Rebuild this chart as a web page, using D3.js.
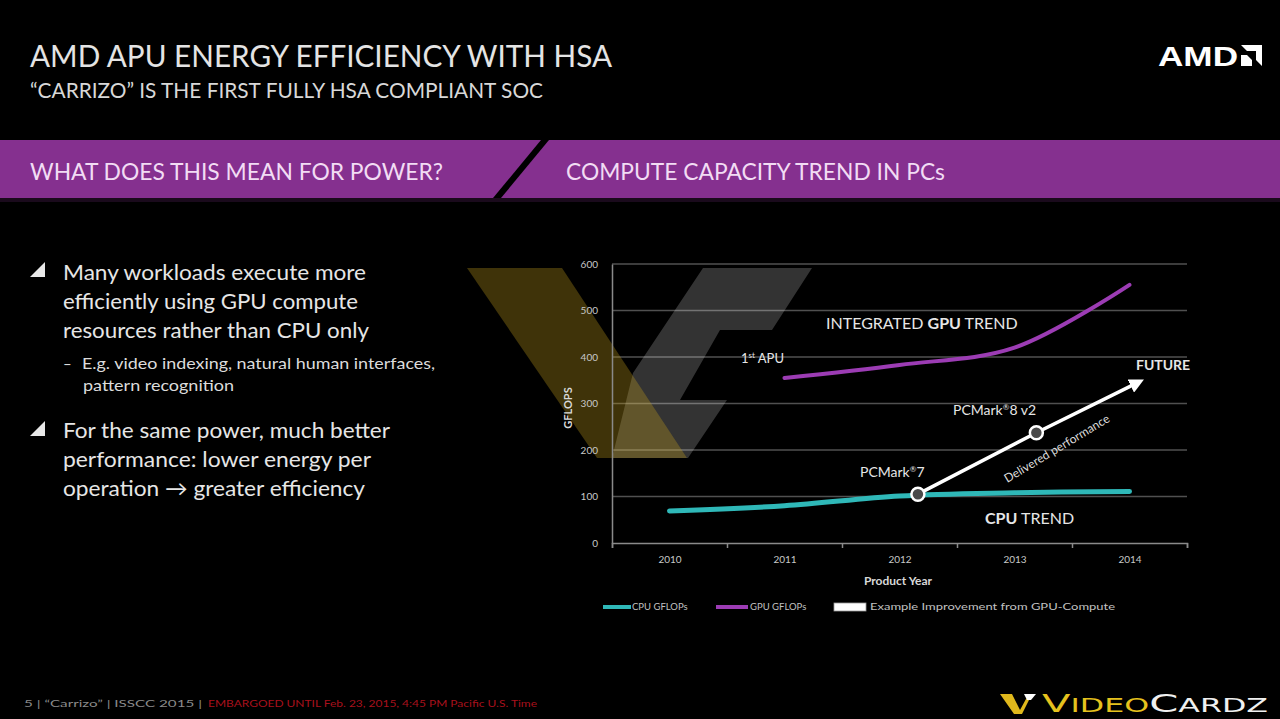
<!DOCTYPE html>
<html><head><meta charset="utf-8">
<script src="https://cdn.jsdelivr.net/npm/d3@7"></script>
<style>html,body{margin:0;padding:0;background:#000;overflow:hidden}</style>
</head><body>
<svg id="c" width="1280" height="719" xmlns="http://www.w3.org/2000/svg"></svg>
<script>
// ---------- data ----------
const years = [2010, 2011, 2012, 2013, 2014];
const cpuGflops = [69, 80, 101, 108, 111];
const gpuGflops = [null, 355, 383, 420, 555];
const improvementYear = [2012.16, 2013.19, 2014.08];
const improvementGflops = [105, 237, 346];
const yTicks = [0, 100, 200, 300, 400, 500, 600];
const legendLabels = ["CPU GFLOPs", "GPU GFLOPs", "Example Improvement from GPU-Compute"];
const bullet1 = ["Many workloads execute more", "efficiently using GPU compute", "resources rather than CPU only"];
const subBullet = ["E.g. video indexing, natural human interfaces,", "pattern recognition"];
const bullet2 = ["For the same power, much better", "performance: lower energy per", "operation \u2192 greater efficiency"];

// ---------- styles ----------
const FONT = "Lato, 'Open Sans', sans-serif";
const TEAL = "#2fb8b8", PURPLE = "#9c3cb4", BANNER = "#85308f";

const svg = d3.select("#c");
svg.append("rect").attr("width", 1280).attr("height", 719).attr("fill", "#000");

function fitText(sel, w) { return sel.attr("textLength", w).attr("lengthAdjust", "spacingAndGlyphs"); }

// ---------- header ----------
fitText(svg.append("text").attr("x", 30).attr("y", 67).attr("font-family", FONT).attr("font-size", 31)
  .attr("fill", "#e4e4e4").text("AMD APU ENERGY EFFICIENCY WITH HSA"), 582);
fitText(svg.append("text").attr("x", 30).attr("y", 98).attr("font-family", FONT).attr("font-size", 21)
  .attr("fill", "#d8d8d8").text("\u201CCARRIZO\u201D IS THE FIRST FULLY HSA COMPLIANT SOC"), 513);

// AMD logo
fitText(svg.append("text").attr("x", 1158).attr("y", 66).attr("font-family", "'Liberation Sans', Arial, sans-serif")
  .attr("font-weight", "bold").attr("font-size", 28).attr("fill", "#fff").text("AMD"), 80);
svg.append("path").attr("fill", "#fff")
  .attr("d", "M1241,45 L1262,45 L1262,66 L1256,60 L1256,51 L1247,51 Z M1241,66 L1241,55 L1247,55 L1252,60 L1252,66 Z");

// banner
svg.append("rect").attr("x", 0).attr("y", 198).attr("width", 1280).attr("height", 4).attr("fill", "#1a0a1c");
svg.append("path").attr("fill", BANNER).attr("d", "M0,140 L541,140 L493,198 L0,198 Z");
svg.append("path").attr("fill", BANNER).attr("d", "M549,140 L1280,140 L1280,198 L501,198 Z");
fitText(svg.append("text").attr("x", 30).attr("y", 180).attr("font-family", FONT).attr("font-size", 23)
  .attr("fill", "#f2dcf4").text("WHAT DOES THIS MEAN FOR POWER?"), 413);
fitText(svg.append("text").attr("x", 566).attr("y", 180).attr("font-family", FONT).attr("font-size", 23)
  .attr("fill", "#f2dcf4").text("COMPUTE CAPACITY TREND IN PCs"), 379);

// ---------- bullets ----------
const bulletGlyph = "M45,262 L45,277 L30,277 Z";
svg.append("path").attr("d", bulletGlyph).attr("fill", "#e8e8e8");
svg.append("path").attr("d", bulletGlyph).attr("transform", "translate(0,159)").attr("fill", "#e8e8e8");
const b1w = [303, 295, 306], b2w = [327, 308, 302];
bullet1.forEach((t, i) => fitText(svg.append("text").attr("x", 63).attr("y", 280 + i * 29)
  .attr("font-family", FONT).attr("font-size", 21).attr("fill", "#e6e6e6").text(t), b1w[i]));
svg.append("text").attr("x", 63).attr("y", 369).attr("font-family", FONT).attr("font-size", 15).attr("fill", "#dcdcdc").text("\u2013");
fitText(svg.append("text").attr("x", 82).attr("y", 369).attr("font-family", FONT).attr("font-size", 15)
  .attr("fill", "#dcdcdc").text(subBullet[0]), 353);
fitText(svg.append("text").attr("x", 83).attr("y", 391).attr("font-family", FONT).attr("font-size", 15)
  .attr("fill", "#dcdcdc").text(subBullet[1]), 151);
bullet2.forEach((t, i) => fitText(svg.append("text").attr("x", 63).attr("y", 438 + i * 29)
  .attr("font-family", FONT).attr("font-size", 21).attr("fill", "#e6e6e6").text(t), b2w[i]));

// ---------- chart ----------
const x = d3.scaleLinear().domain([2009.5, 2014.5]).range([612, 1187]);
const y = d3.scaleLinear().domain([0, 600]).range([543, 264]);

// gridlines
svg.append("g").selectAll("line").data(yTicks.filter(d => d > 0)).join("line")
  .attr("x1", x(2009.5)).attr("x2", x(2014.5)).attr("y1", d => y(d)).attr("y2", d => y(d))
  .attr("stroke", "#505050").attr("stroke-width", 1.5);

// watermark (decorative)
const wm = svg.append("g");
wm.append("path").attr("fill", "#ffffff").attr("opacity", 0.2)
  .attr("d", "M703,268 L812,268 L772,330 L720,330 L680,400 L727,400 L688,458 L612,458 L633,373 Z");
wm.append("path").attr("fill", "#c09a1c").attr("opacity", 0.33)
  .attr("d", "M467,268 L562,268 L687,458 L597,458 Z");

// y axis
const yAxis = svg.append("g").attr("transform", `translate(${x(2009.5)},0)`)
  .call(d3.axisLeft(y).tickValues(yTicks).tickSize(0).tickPadding(14));
yAxis.select(".domain").attr("stroke", "#8a8a8a").attr("stroke-width", 1.5);
yAxis.selectAll("text").attr("font-family", FONT).attr("font-size", 10).attr("fill", "#c8c8c8");

// x axis: tick marks at category boundaries, labels at centres
const xMarks = svg.append("g").attr("transform", `translate(0,${y(0)})`)
  .call(d3.axisBottom(x).tickValues(d3.range(2009.5, 2015, 1)).tickSize(5).tickFormat(""));
xMarks.select(".domain").attr("stroke", "#8a8a8a").attr("stroke-width", 1.5);
xMarks.selectAll("line").attr("stroke", "#8a8a8a").attr("stroke-width", 1.5);
const xLabels = svg.append("g").attr("transform", `translate(0,${y(0)})`)
  .call(d3.axisBottom(x).tickValues(years).tickSize(0).tickPadding(13).tickFormat(d3.format("d")));
xLabels.select(".domain").remove();
xLabels.selectAll("text").attr("font-family", FONT).attr("font-size", 10).attr("fill", "#c8c8c8");

svg.append("text").attr("x", 898).attr("y", 585).attr("text-anchor", "middle").attr("font-family", FONT)
  .attr("font-weight", "bold").attr("font-size", 12).attr("fill", "#d8d8d8").text("Product Year");
svg.append("text").attr("transform", "translate(572,408) rotate(-90)").attr("text-anchor", "middle")
  .attr("font-family", FONT).attr("font-weight", "bold").attr("font-size", 11).attr("fill", "#d8d8d8").text("GFLOPS");

// series lines
const line = d3.line().defined(d => d[1] != null).x(d => x(d[0])).y(d => y(d[1])).curve(d3.curveCatmullRom.alpha(0.5));
svg.append("path").datum(years.map((yr, i) => [yr, cpuGflops[i]])).attr("d", line)
  .attr("fill", "none").attr("stroke", TEAL).attr("stroke-width", 5).attr("stroke-linecap", "round");
svg.append("path").datum(years.map((yr, i) => [yr, gpuGflops[i]])).attr("d", line)
  .attr("fill", "none").attr("stroke", PURPLE).attr("stroke-width", 4).attr("stroke-linecap", "round");

// improvement arrow
const defs = svg.append("defs");
defs.append("marker").attr("id", "arrow").attr("viewBox", "0 0 10 10").attr("refX", 6).attr("refY", 5)
  .attr("markerWidth", 4.2).attr("markerHeight", 4.2).attr("orient", "auto").attr("markerUnits", "strokeWidth")
  .append("path").attr("d", "M0,0 L10,5 L0,10 Z").attr("fill", "#fff");
const imp = improvementYear.map((yr, i) => [yr, improvementGflops[i]]);
svg.append("path").datum(imp).attr("d", d3.line().x(d => x(d[0])).y(d => y(d[1])))
  .attr("fill", "none").attr("stroke", "#fff").attr("stroke-width", 3.5).attr("marker-end", "url(#arrow)");
svg.append("g").selectAll("circle").data(imp.slice(0, 2)).join("circle")
  .attr("cx", d => x(d[0])).attr("cy", d => y(d[1])).attr("r", 6.5)
  .attr("fill", "#4a4a4a").attr("stroke", "#fff").attr("stroke-width", 2.5);

// annotations
const ann = svg.append("g").attr("font-family", FONT).attr("fill", "#e6e6e6");
const t1 = ann.append("text").attr("x", 826).attr("y", 329).attr("font-size", 16);
t1.append("tspan").text("INTEGRATED ");
t1.append("tspan").attr("font-weight", "bold").text("GPU");
t1.append("tspan").text(" TREND");
const t2 = ann.append("text").attr("x", 741).attr("y", 363).attr("font-size", 13);
t2.append("tspan").text("1");
t2.append("tspan").attr("font-size", 8).attr("dy", -5).text("st");
t2.append("tspan").attr("dy", 5).text(" APU");
ann.append("text").attr("x", 1136).attr("y", 370).attr("font-size", 14).attr("font-weight", "bold").text("FUTURE");
const t3 = ann.append("text").attr("x", 953).attr("y", 415).attr("font-size", 14);
t3.append("tspan").text("PCMark");
t3.append("tspan").attr("font-size", 8).attr("dy", -5).text("\u00AE");
t3.append("tspan").attr("dy", 5).text("8 v2");
const t4 = ann.append("text").attr("x", 860).attr("y", 477).attr("font-size", 14);
t4.append("tspan").text("PCMark");
t4.append("tspan").attr("font-size", 8).attr("dy", -5).text("\u00AE");
t4.append("tspan").attr("dy", 5).text("7");
const t5 = ann.append("text").attr("x", 985).attr("y", 524).attr("font-size", 16);
t5.append("tspan").attr("font-weight", "bold").text("CPU");
t5.append("tspan").text(" TREND");
ann.append("text").attr("transform", "translate(1059,452) rotate(-31)").attr("text-anchor", "middle")
  .attr("font-size", 12).attr("fill", "#dcdcdc").text("Delivered performance");

// legend
const lg = svg.append("g").attr("font-family", FONT).attr("font-size", 9.5).attr("fill", "#c0c0c0");
lg.append("line").attr("x1", 603).attr("x2", 631).attr("y1", 607).attr("y2", 607).attr("stroke", TEAL).attr("stroke-width", 4);
lg.append("text").attr("x", 632).attr("y", 610).text(legendLabels[0]);
lg.append("line").attr("x1", 716).attr("x2", 748).attr("y1", 607).attr("y2", 607).attr("stroke", PURPLE).attr("stroke-width", 4);
lg.append("text").attr("x", 750).attr("y", 610).text(legendLabels[1]);
lg.append("rect").attr("x", 834).attr("y", 603).attr("width", 32).attr("height", 8).attr("fill", "#fff").attr("stroke", "#999").attr("stroke-width", 0.8);
fitText(lg.append("text").attr("x", 870).attr("y", 610).text(legendLabels[2]), 245);

// ---------- footer ----------
const ft = svg.append("g").attr("font-family", FONT).attr("font-size", 9.5);
fitText(ft.append("text").attr("x", 24).attr("y", 707).attr("fill", "#8a8a8a")
  .text("5   |   \u201CCarrizo\u201D   |  ISSCC 2015  |"), 178);
fitText(ft.append("text").attr("x", 208).attr("y", 707).attr("fill", "#a8101c")
  .text("EMBARGOED UNTIL Feb. 23, 2015, 4:45 PM Pacific U.S. Time"), 329);

// VideoCardz mark
svg.append("path").attr("fill", "#e0b81c").attr("d", "M1000,694 L1012,694 L1020,710 L1026,699 L1032,694 L1022,714 L1014,714 Z");
svg.append("path").attr("fill", "#ffffff").attr("d", "M1024,694 L1036,694 L1031,700 L1027,700 Z");
const vc = svg.append("text").attr("x", 1042).attr("y", 712).attr("font-family", "'DejaVu Sans', sans-serif")
  .attr("font-size", 19);
vc.append("tspan").attr("fill", "#e6c21e").attr("font-size", 25).text("V");
vc.append("tspan").attr("fill", "#e6c21e").text("IDEO");
vc.append("tspan").attr("fill", "#f0f0f0").attr("font-size", 25).text("C");
vc.append("tspan").attr("fill", "#f0f0f0").text("ARDZ");
fitText(vc, 226);
</script>
</body></html>
